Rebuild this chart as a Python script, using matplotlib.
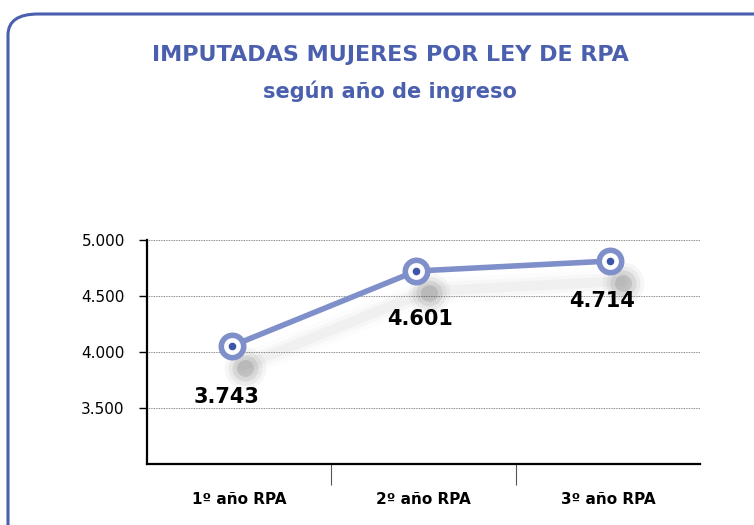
import matplotlib
matplotlib.use("Agg")
import matplotlib.pyplot as plt
import matplotlib.patches as mpatches

# datos
categorias = ['1º año RPA', '2º año RPA', '3º año RPA']
valores = [4054, 4723, 4812]          # posición dibujada de cada punto
etiquetas = ['3.743', '4.601', '4.714']  # texto de cada punto
yticks = [3500, 4000, 4500, 5000]
yticklabels = ['3.500', '4.000', '4.500', '5.000']

azul_titulo = '#4a5fae'
azul_linea = '#7f8fc9'
azul_punto = '#3d55a8'

fig = plt.figure(figsize=(7.54, 5.25), dpi=100)
fig.patch.set_facecolor('white')

# marco redondeado
marco = mpatches.FancyBboxPatch((8 / 754, -0.2), 1.2, 0.2 + (525 - 14) / 525,
                                boxstyle='round,pad=0,rounding_size=0.04',
                                transform=fig.transFigure, fill=False,
                                edgecolor=azul_titulo, linewidth=2.2)
fig.patches.append(marco)

fig.text(390 / 754, 1 - 55 / 525, 'IMPUTADAS MUJERES POR LEY DE RPA',
         ha='center', va='center', fontsize=16, fontweight='bold',
         color=azul_titulo)
fig.text(390 / 754, 1 - 91 / 525, 'según año de ingreso',
         ha='center', va='center', fontsize=15, fontweight='bold',
         color=azul_titulo)

ax = fig.add_axes([147 / 754, 1 - 464 / 525, (700 - 147) / 754, (464 - 240) / 525])
desplaz = [-0.04, -0.04, 0.01]
x = [i + d for i, d in zip(range(len(categorias)), desplaz)]

# sombra difusa
for w, a in [(18, 0.015), (12, 0.025), (7, 0.035)]:
    ax.plot([xi + 0.06 for xi in x], [v - 180 for v in valores], color='#404040',
            linewidth=w, alpha=a, solid_capstyle='round', zorder=1)
for s, a in [(900, 0.04), (600, 0.06), (350, 0.09), (150, 0.12)]:
    ax.scatter([xi + 0.07 for xi in x], [v - 200 for v in valores], s=s,
               color='#303030', alpha=a, linewidths=0, zorder=1)

ax.plot(x, valores, color=azul_linea, linewidth=4, zorder=3)
ax.scatter(x, valores, s=260, facecolor='white', edgecolor=azul_linea,
           linewidths=4, zorder=4)
ax.scatter(x, valores, s=20, color=azul_punto, zorder=5)

offsets = [(-0.03, -460), (0.02, -430), (-0.04, -360)]
for xi, v, lab, (dx, dy) in zip(x, valores, etiquetas, offsets):
    ax.text(xi + dx, v + dy, lab, ha='center', va='center', fontsize=15,
            fontweight='bold', color='black')

ax.set_xlim(-0.5, 2.5)
ax.set_ylim(3000, 5000)
ax.set_yticks(yticks)
ax.set_yticklabels(yticklabels, fontsize=11)
ax.set_xticks(range(len(categorias)))
ax.set_xticklabels(categorias, fontsize=11, fontweight='bold')
ax.set_xticks([0.5, 1.5], minor=True)
ax.tick_params(axis='x', which='major', length=0, pad=20)
ax.tick_params(axis='x', which='minor', length=15, width=0.8, color='#555555',
               direction='out')
ax.tick_params(axis='y', length=6, width=1, direction='out', pad=10)
ax.grid(True, axis='y', linestyle=(0, (1, 1)), color='#666666', linewidth=0.6)
ax.set_axisbelow(True)
for s in ['top', 'right']:
    ax.spines[s].set_visible(False)
ax.spines['left'].set_linewidth(1.6)
ax.spines['bottom'].set_linewidth(1.6)

fig.savefig('out.png', dpi=100)
